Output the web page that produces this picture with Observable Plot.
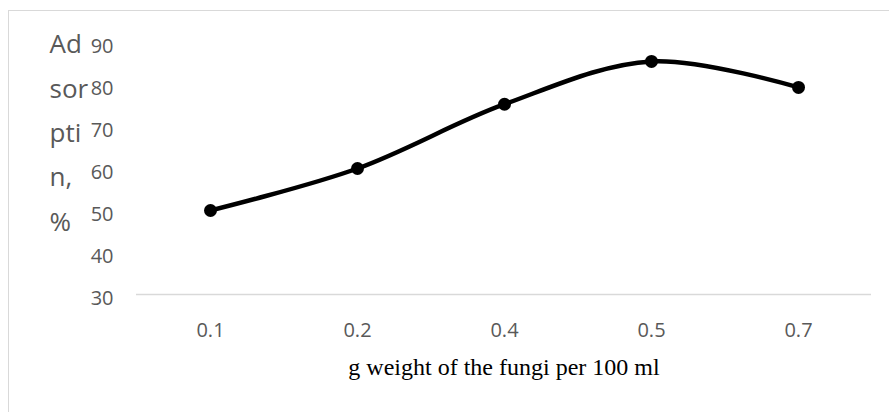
<!DOCTYPE html>
<html>
<head>
<meta charset="utf-8">
<script src="https://cdn.jsdelivr.net/npm/d3@7"></script>
<script src="https://cdn.jsdelivr.net/npm/@observablehq/plot@0.6"></script>
<style>
  html, body { margin: 0; padding: 0; background: #fff; overflow: hidden; }
  #wrap { position: relative; width: 889px; height: 412px; }
  #border { position: absolute; left: 8px; top: 10px; width: 1000px; height: 1000px;
            border: 1.5px solid #d9d9d9; box-sizing: border-box; pointer-events: none; }
  svg { position: absolute; left: 0; top: 0; }
</style>
</head>
<body>
<div id="wrap"><div id="border"></div></div>
<script>
const categories = ["0.1", "0.2", "0.4", "0.5", "0.7"];
const adsorption = [50, 60, 75.3, 85.5, 79.3];
const yTicks = [30, 40, 50, 60, 70, 80, 90];
const yTitle = "Ad\nsor\npti\nn,\n%";
const xTitle = "g weight of the fungi per 100 ml";

const data = categories.map((c, i) => ({x: c, y: adsorption[i]}));

const chart = Plot.plot({
  width: 889,
  height: 412,
  marginLeft: 136,
  marginRight: 18,
  marginTop: 42,
  marginBottom: 118,
  style: {fontFamily: "'Open Sans', sans-serif", background: "transparent", overflow: "visible"},
  x: {type: "point", domain: categories, padding: 0.5, label: null},
  y: {domain: [30, 90], label: null},
  marks: [
    Plot.ruleY([30], {stroke: "#d9d9d9", strokeWidth: 1.5}),
    Plot.axisY({ticks: yTicks, tickSize: 0, tickPadding: 23, fontSize: 20, fill: "#595959", dy: 4, tickFormat: d => String(d)}),
    Plot.axisX({tickSize: 0, tickPadding: 28, fontSize: 20, fill: "#595959"}),
    Plot.text([yTitle], {frameAnchor: "top-left", dx: -87, dy: -21, fontSize: 26, fill: "#595959", textAnchor: "start", lineAnchor: "top", lineHeight: 1.71}),
    Plot.text([xTitle], {frameAnchor: "bottom", dy: 80, fontSize: 24, fill: "#000", fontFamily: "'Liberation Serif', serif"}),
    Plot.line(data, {x: "x", y: "y", curve: "catmull-rom", stroke: "#000", strokeWidth: 4.5}),
    Plot.dot(data, {x: "x", y: "y", r: 6.5, fill: "#000", stroke: "none"})
  ]
});
document.getElementById("wrap").appendChild(chart);
</script>
</body>
</html>
